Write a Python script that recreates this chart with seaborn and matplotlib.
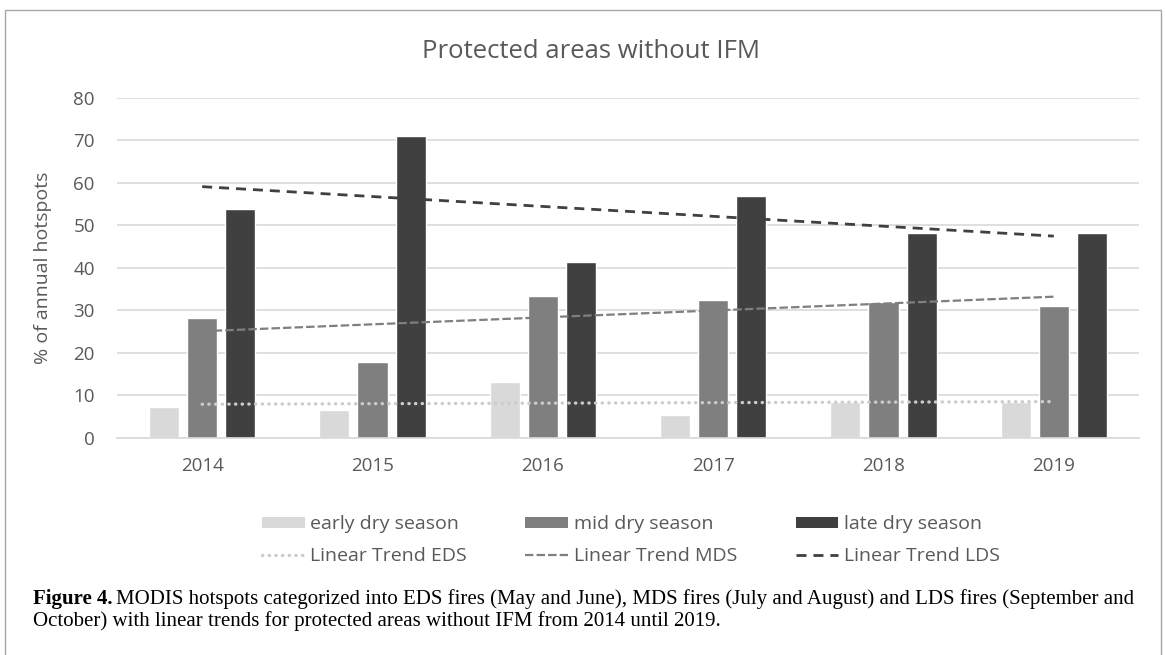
import numpy as np
import pandas as pd
import matplotlib.pyplot as plt
import seaborn as sns
from matplotlib.patches import Patch, Rectangle
from matplotlib.lines import Line2D

# values
years = ['2014', '2015', '2016', '2017', '2018', '2019']
eds = [7.3, 6.4, 13.1, 5.4, 8.4, 8.5]
mds = [28.1, 17.7, 33.4, 32.4, 32.0, 31.1]
lds = [53.8, 71.1, 41.4, 56.9, 48.1, 48.2]
seasons = ['early dry season', 'mid dry season', 'late dry season']
trend_names = ['Linear Trend EDS', 'Linear Trend MDS', 'Linear Trend LDS']
yticks = [0, 10, 20, 30, 40, 50, 60, 70, 80]

colors = ['#d9d9d9', '#7f7f7f', '#404040']
trend_colors = ['#cccccc', '#7f7f7f', '#404040']
trend_styles = [(0, (0.1, 1.9)), (0, (3.8, 1.4)), (0, (3.6, 2.5))]
trend_lw = [2.4, 1.6, 2.0]

df = pd.DataFrame({
    'year': years * 3,
    'season': [seasons[0]] * 6 + [seasons[1]] * 6 + [seasons[2]] * 6,
    'value': eds + mds + lds,
})

sns.set_style('white')
plt.rcParams['font.family'] = ['Open Sans', 'DejaVu Sans']
grey = '#595959'

fig = plt.figure(figsize=(11.65, 6.55), dpi=100)
ax = fig.add_axes([117 / 1165, 1 - 437.7 / 655, (1139 - 117) / 1165, 340 / 655])

sns.barplot(data=df, x='year', y='value', hue='season', hue_order=seasons,
            palette=colors, saturation=1, width=0.67, gap=0.21,
            errorbar=None, legend=False, ax=ax)

# linear trends (least squares fit on each series)
xs = np.arange(len(years))
for vals, c, ls, lw in zip([eds, mds, lds], trend_colors, trend_styles, trend_lw):
    k, b = np.polyfit(xs, vals, 1)
    ax.plot(xs, k * xs + b, color=c, linestyle=ls, lw=lw,
            dash_capstyle='round' if c == trend_colors[0] else 'butt')

ax.set_xlim(-0.5, len(years) - 0.5)
ax.set_ylim(0, 80)
ax.set_yticks(yticks)
ax.set_xlabel('')
ax.set_ylabel('% of annual hotspots', fontsize=14, color=grey)
ax.yaxis.set_label_coords(-0.0636, 0.5)
ax.set_axisbelow(True)
ax.yaxis.grid(True, color='#d9d9d9', lw=1.2)
for s in ['top', 'left', 'right']:
    ax.spines[s].set_visible(False)
ax.spines['bottom'].set_color('#d9d9d9')
ax.spines['bottom'].set_linewidth(1.2)
ax.tick_params(axis='y', length=0, labelsize=13.5, labelcolor=grey, pad=16)
ax.tick_params(axis='x', length=0, labelsize=13.5, labelcolor=grey, pad=14)

fig.text(591 / 1165, 1 - 52 / 655, 'Protected areas without IFM', fontsize=18.5,
         color=grey, ha='center', va='center')

handles = []
labels = []
for i in range(3):
    handles.append(Patch(facecolor=colors[i], edgecolor='none'))
    labels.append(seasons[i])
    handles.append(Line2D([0], [0], color=trend_colors[i], linestyle=trend_styles[i], lw=trend_lw[i],
                          dash_capstyle='round' if i == 0 else 'butt'))
    labels.append(trend_names[i])
fig.legend(handles, labels, ncol=3, loc='center', bbox_to_anchor=(631 / 1165, 1 - 540 / 655),
           frameon=False, fontsize=14, handlelength=2.2, handleheight=0.5,
           handletextpad=0.3, columnspacing=3.0, labelspacing=0.7, labelcolor=grey)

# caption
cap_font = ['Liberation Serif', 'DejaVu Serif']
x0 = 33 / 1165
t = fig.text(x0, 1 - 599 / 655, 'Figure 4.', fontsize=15, fontweight='bold',
             family=cap_font, va='center', color='black')
fig.canvas.draw()
bb = t.get_window_extent().transformed(fig.transFigure.inverted())
fig.text(bb.x1 + 4 / 1165, 1 - 599 / 655,
         'MODIS hotspots categorized into EDS fires (May and June), MDS fires (July and August) '
         'and LDS fires (September and', fontsize=15, family=cap_font, va='center', color='black')
fig.text(x0, 1 - 621 / 655,
         'October) with linear trends for protected areas without IFM from 2014 until 2019.',
         fontsize=15, family=cap_font, va='center', color='black')

fig.add_artist(Rectangle((5 / 1165, -0.05), (1161 - 5) / 1165, 1 - 10 / 655 + 0.05,
                         transform=fig.transFigure, fill=False, edgecolor='#a6a6a6', lw=1))

fig.savefig('out.png', dpi=100)
